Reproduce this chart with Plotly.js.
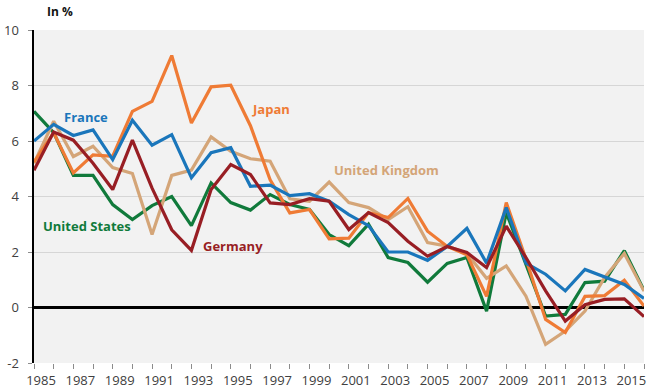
<!DOCTYPE html>
<html>
<head>
<meta charset="utf-8">
<script src="https://cdn.plot.ly/plotly-3.0.1.min.js"></script>
<style>
html,body{margin:0;padding:0;background:#fff;}
#chart{width:652px;height:390px;}
</style>
</head>
<body>
<div id="chart"></div>
<script>
const years = [1985,1986,1987,1988,1989,1990,1991,1992,1993,1994,1995,1996,1997,1998,1999,2000,2001,2002,2003,2004,2005,2006,2007,2008,2009,2010,2011,2012,2013,2014,2015,2016];
const france = [6.0,6.6,6.2,6.4,5.33,6.75,5.85,6.23,4.68,5.58,5.76,4.37,4.41,4.03,4.1,3.83,3.35,2.95,2.0,2.0,1.7,2.2,2.85,1.6,3.6,1.6,1.2,0.6,1.37,1.1,0.83,0.33];
const japan = [5.24,6.3,4.85,5.5,5.45,7.07,7.43,9.08,6.65,7.95,8.01,6.55,4.6,3.41,3.53,2.47,2.5,3.42,3.24,3.93,2.75,2.2,1.9,0.4,3.78,1.75,-0.43,-0.9,0.4,0.43,0.98,0.05];
const germany = [4.95,6.32,6.03,5.2,4.25,6.03,4.3,2.8,2.06,4.25,5.15,4.79,3.77,3.71,3.92,3.83,2.81,3.42,3.06,2.39,1.85,2.2,1.98,1.44,2.93,1.8,0.6,-0.49,0.1,0.29,0.31,-0.33];
const uk = [5.2,6.71,5.44,5.81,5.04,4.83,2.63,4.76,4.95,6.15,5.63,5.36,5.27,3.92,3.83,4.52,3.78,3.6,3.17,3.63,2.34,2.21,1.95,1.05,1.5,0.41,-1.33,-0.85,-0.13,1.08,1.95,0.59];
const us = [7.07,6.3,4.76,4.76,3.71,3.17,3.67,4.0,2.95,4.49,3.78,3.51,4.07,3.71,3.53,2.63,2.23,3.0,1.8,1.62,0.91,1.59,1.8,-0.13,3.42,1.55,-0.31,-0.25,0.9,0.95,2.05,0.62];
const seriesNames = ["France","Japan","Germany","United Kingdom","United States"];
const tickYears = [1985,1987,1989,1991,1993,1995,1997,1999,2001,2003,2005,2007,2009,2011,2013,2015];
const tickLabels = tickYears.map(String);
const yTickVals = [-2,0,2,4,6,8,10];
const yTickLabels = ["-2","0","2","4","6","8","10"];

const colors = {
  "France":"#1a76bb",
  "Japan":"#ef7b35",
  "Germany":"#981e24",
  "United Kingdom":"#d4a578",
  "United States":"#107a3b"
};
const values = {"France":france,"Japan":japan,"Germany":germany,"United Kingdom":uk,"United States":us};
const order = ["United States","United Kingdom","Japan","France","Germany"];

const traces = order.map(n => ({
  x: years, y: values[n], type:'scatter', mode:'lines', name:n,
  line:{color:colors[n], width:3.2}, hoverinfo:'skip'
}));

const labelPos = {
  "France":[1987.64,6.85],
  "Japan":[1997.04,7.17],
  "United Kingdom":[2002.9,4.94],
  "United States":[1987.7,2.92],
  "Germany":[1995.1,2.23]
};
const annotations = seriesNames.map(n => ({
  x: labelPos[n][0], y: labelPos[n][1], xref:'x', yref:'y',
  text:n, showarrow:false, xanchor:'center', yanchor:'middle',
  font:{family:'Open Sans, sans-serif', size:13, color:colors[n], weight:700}
}));
annotations.push({
  xref:'paper', yref:'paper', x:0.018, y:1.057, xanchor:'left', yanchor:'middle',
  text:'In %', showarrow:false,
  font:{family:'Open Sans, sans-serif', size:12, color:'#111', weight:700}
});

const layout = {
  width:652, height:390,
  margin:{l:34, r:8, t:30, b:27},
  paper_bgcolor:'#ffffff', plot_bgcolor:'#f2f2f2',
  showlegend:false,
  font:{family:'Open Sans, sans-serif', size:13, color:'#404040'},
  xaxis:{
    range:[1985,2016], tickvals:tickYears, ticktext:tickLabels,
    ticks:'outside', ticklen:5, tickcolor:'#8c8c8c', tickwidth:1,
    minor:{dtick:1, tick0:1985, ticks:'outside', ticklen:5, tickcolor:'#8c8c8c', showgrid:false},
    showgrid:false, zeroline:false, showline:false,
    ticklabelshift:7, ticklabelstandoff:0,
    tickfont:{size:13, color:'#404040'}
  },
  yaxis:{
    range:[-2,10], tickvals:yTickVals, ticktext:yTickLabels,
    ticks:'outside', ticklen:4, tickcolor:'#8c8c8c',
    showgrid:true, gridcolor:'#d6d6d6', gridwidth:1,
    zeroline:true, zerolinecolor:'#000', zerolinewidth:2.5,
    showline:true, linecolor:'#000', linewidth:2.5,
    ticklabelstandoff:6,
    tickfont:{size:13, color:'#404040'}
  },
  annotations:annotations
};
Plotly.newPlot('chart', traces, layout, {displayModeBar:false, staticPlot:true});
</script>
</body>
</html>
